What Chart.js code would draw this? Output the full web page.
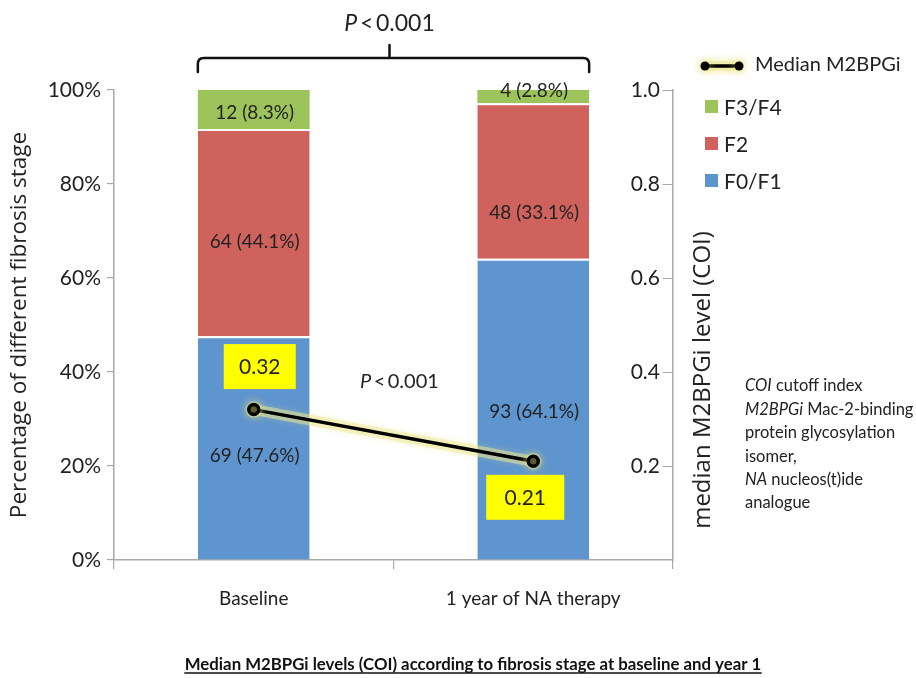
<!DOCTYPE html>
<html><head><meta charset="utf-8">
<script src="https://cdn.jsdelivr.net/npm/chart.js@4/dist/chart.umd.min.js"></script>
<style>html,body{margin:0;padding:0;background:#fff}canvas{display:block}</style>
</head><body>
<canvas id="c" width="916" height="678"></canvas>
<script>
// ---------------- data ----------------
const categories = ['Baseline', '1 year of NA therapy'];
const seriesNames = ['F0/F1', 'F2', 'F3/F4'];
const countsF01 = [69, 93];
const countsF2 = [64, 48];
const countsF34 = [12, 4];
const pctF01 = [47.6, 64.1];
const pctF2 = [44.1, 33.1];
const pctF34 = [8.3, 2.8];
const medianM2BPGi = [0.32, 0.21];
const medianLabel = 'Median M2BPGi';
const leftTicks = [0, 20, 40, 60, 80, 100];
const rightTicks = [0, 0.2, 0.4, 0.6, 0.8, 1.0];
const pText = '0.001';
const leftTitle = 'Percentage of different fibrosis stage';
const rightTitle = 'median M2BPGi level (COI)';
const bottomTitle = 'Median M2BPGi levels (COI) according to fibrosis stage at baseline and year 1';
const annotationLines = [
  [['COI', true], [' cutoff index', false]],
  [['M2BPGi', true], [' Mac-2-binding', false]],
  [['protein glycosylation', false]],
  [['isomer,', false]],
  [['NA', true], [' nucleos(t)ide', false]],
  [['analogue', false]]
];

// ---------------- style ----------------
const FONT = 'Lato';
const TXT = '#222';
const AX = '#a8a8a8';
const COL = { F01: '#5f95cf', F2: '#cf625c', F34: '#9dc35b' };
const GLOW = 'rgba(240,236,160,0.5)';

function barDs(label, data, counts, color, topBorder) {
  return {
    type: 'bar', label, data, counts, backgroundColor: color,
    stack: 's', yAxisID: 'y', order: 2,
    barPercentage: 0.4, categoryPercentage: 1.0,
    borderColor: '#ffffff', borderWidth: { top: topBorder, left: 0, right: 0, bottom: 0 }, borderSkipped: false
  };
}

const datasets = [
  barDs(seriesNames[0], pctF01, countsF01, COL.F01, 2),
  barDs(seriesNames[1], pctF2, countsF2, COL.F2, 2),
  barDs(seriesNames[2], pctF34, countsF34, COL.F34, 0),
  {
    type: 'line', label: medianLabel, data: medianM2BPGi, yAxisID: 'y1', order: 0,
    borderColor: '#000', borderWidth: 3.5, pointRadius: 5, pointBackgroundColor: '#000',
    pointBorderColor: '#000', fill: false, tension: 0
  },
  {
    type: 'line', label: 'glow', data: medianM2BPGi, yAxisID: 'y1', order: 1,
    borderColor: GLOW, borderWidth: 11, pointRadius: 8, pointBorderWidth: 0,
    pointBackgroundColor: GLOW, fill: false, tension: 0
  }
];

// label offsets (px) per segment: [dataset][category]; 'top' = centred at top edge
const labelOffsets = [[8, 3], [9, 32], [3, 'top']];
const boxShift = [6, -8];

function setFont(ctx, size, italic, bold, family) {
  ctx.font = (italic ? 'italic ' : '') + (bold ? 'bold ' : '') + size + 'px ' + (family || FONT);
}
function drawRich(ctx, parts, x, y, size) {
  let cx = x;
  parts.forEach(([t, it]) => {
    setFont(ctx, size, it);
    ctx.fillText(t, cx, y);
    cx += ctx.measureText(t).width;
  });
}
function drawP(ctx, cx, cy, size) {
  setFont(ctx, size, true);
  const wP = ctx.measureText('P').width;
  setFont(ctx, size, false);
  const wL = ctx.measureText('<').width;
  const wN = ctx.measureText(pText).width;
  const gap = size * 0.12;
  const total = wP + gap + wL + gap + wN;
  let x = cx - total / 2;
  ctx.textAlign = 'left'; ctx.textBaseline = 'middle'; ctx.fillStyle = TXT;
  setFont(ctx, size, true); ctx.fillText('P', x, cy); x += wP + gap;
  setFont(ctx, size, false); ctx.fillText('<', x, cy); x += wL + gap;
  ctx.fillText(pText, x, cy);
}

const glowPlugin = {
  id: 'glow',
  beforeDatasetDraw(chart, args) {
    if (args.index === 3) {
      const ctx = chart.ctx; ctx.save();
      ctx.shadowColor = 'rgba(230,225,120,0.9)'; ctx.shadowBlur = 9;
    }
  },
  afterDatasetDraw(chart, args) {
    if (args.index === 3) chart.ctx.restore();
  }
};

const decoPlugin = {
  id: 'deco',
  afterDatasetsDraw(chart) {
    const ctx = chart.ctx;
    const ca = chart.chartArea;
    ctx.save();
    // segment labels
    ctx.fillStyle = TXT; ctx.textAlign = 'center'; ctx.textBaseline = 'middle';
    setFont(ctx, 19, false);
    for (let i = 0; i < 3; i++) {
      const ds = chart.data.datasets[i];
      const meta = chart.getDatasetMeta(i);
      meta.data.forEach((el, j) => {
        const off = labelOffsets[i][j];
        const y = off === 'top' ? el.y + 1 : (el.y + el.base) / 2 + off;
        ctx.fillText(ds.counts[j] + ' (' + ds.data[j].toFixed(1) + '%)', el.x + 1, y);
      });
    }
    // yellow value boxes
    const lm = chart.getDatasetMeta(3);
    lm.data.forEach((pt, j) => {
      const w = j === 0 ? 72 : 78, h = 45;
      const cx = pt.x + boxShift[j];
      const cy = j === 0 ? pt.y - 43 : pt.y + 36;
      ctx.fillStyle = '#ffff00';
      ctx.fillRect(cx - w / 2, cy - h / 2, w, h);
      ctx.fillStyle = TXT; setFont(ctx, 21, false);
      ctx.textAlign = 'center'; ctx.textBaseline = 'middle';
      ctx.fillText(chart.data.datasets[3].data[j].toFixed(2), cx, cy + 1);
    });
    // middle P
    drawP(ctx, (lm.data[0].x + lm.data[1].x) / 2 + 6, ca.top + 292, 20);
    ctx.restore();
  },
  afterDraw(chart) {
    const ctx = chart.ctx;
    const ca = chart.chartArea;
    ctx.save();
    // bracket
    const b0 = chart.getDatasetMeta(0).data[0], b1 = chart.getDatasetMeta(0).data[1];
    const xL = b0.x - b0.width / 2, xR = b1.x + b1.width / 2;
    const yB = 58, r = 6;
    const xm = (xL + xR) / 2 - 4;
    ctx.strokeStyle = '#111'; ctx.lineWidth = 2.5; ctx.lineJoin = 'round'; ctx.lineCap = 'round';
    ctx.beginPath();
    ctx.moveTo(xL, yB + 14);
    ctx.lineTo(xL, yB + r);
    ctx.quadraticCurveTo(xL, yB, xL + r, yB);
    ctx.lineTo(xR - r, yB);
    ctx.quadraticCurveTo(xR, yB, xR, yB + r);
    ctx.lineTo(xR, yB + 14);
    ctx.moveTo(xm, yB); ctx.lineTo(xm, yB - 13);
    ctx.stroke();
    drawP(ctx, xm, 24, 23);

    // right axis tick marks
    const s1 = chart.scales.y1;
    ctx.strokeStyle = AX; ctx.lineWidth = 1.2;
    rightTicks.forEach(v => {
      if (v === 0) return;
      const y = Math.round(s1.getPixelForValue(v)) + 0.5;
      ctx.beginPath(); ctx.moveTo(ca.right - 10, y); ctx.lineTo(ca.right, y); ctx.stroke();
    });

    // right axis title (fitted to reference length)
    ctx.save();
    ctx.translate(ca.right + 30, 380);
    ctx.rotate(-Math.PI / 2);
    ctx.fillStyle = TXT; ctx.textAlign = 'center'; ctx.textBaseline = 'middle';
    setFont(ctx, 20, false, false, 'Open Sans');
    const rw = ctx.measureText(rightTitle).width;
    setFont(ctx, Math.min(24, 20 * 312 / rw).toFixed(1), false, false, 'Open Sans');
    ctx.fillText(rightTitle, 0, 0);
    ctx.restore();

    // legend
    const lx = 705;
    ctx.save();
    ctx.shadowColor = 'rgba(230,225,120,0.9)'; ctx.shadowBlur = 9;
    ctx.strokeStyle = GLOW; ctx.lineWidth = 10;
    ctx.beginPath(); ctx.moveTo(lx, 66); ctx.lineTo(lx + 34, 66); ctx.stroke();
    ctx.strokeStyle = '#000'; ctx.lineWidth = 3.5;
    ctx.beginPath(); ctx.moveTo(lx, 66); ctx.lineTo(lx + 34, 66); ctx.stroke();
    ctx.fillStyle = '#000';
    [lx, lx + 34].forEach(x => { ctx.beginPath(); ctx.arc(x, 66, 4.5, 0, Math.PI * 2); ctx.fill(); });
    ctx.restore();
    ctx.fillStyle = TXT; ctx.textAlign = 'left'; ctx.textBaseline = 'middle';
    setFont(ctx, 20, false);
    ctx.fillText(chart.data.datasets[3].label, lx + 50, 65);
    const order = [2, 1, 0];
    order.forEach((di, k) => {
      const ds = chart.data.datasets[di];
      const y = 107 + k * 37;
      ctx.fillStyle = ds.backgroundColor;
      ctx.fillRect(lx, y - 7, 13, 13);
      ctx.fillStyle = TXT; setFont(ctx, 21, false);
      ctx.fillText(ds.label, lx + 19, y + 1);
    });

    // annotation
    ctx.fillStyle = TXT; ctx.textAlign = 'left'; ctx.textBaseline = 'middle';
    annotationLines.forEach((parts, k) => drawRich(ctx, parts, 745, 386 + k * 23.4, 16.5));

    // bottom title
    setFont(ctx, 16.8, false, true);
    ctx.textAlign = 'center'; ctx.textBaseline = 'alphabetic'; ctx.fillStyle = '#111';
    const tx = 473, ty = 670;
    ctx.fillText(bottomTitle, tx, ty);
    const tw = ctx.measureText(bottomTitle).width;
    ctx.strokeStyle = '#111'; ctx.lineWidth = 1.3;
    ctx.beginPath(); ctx.moveTo(tx - tw / 2, ty + 3); ctx.lineTo(tx + tw / 2, ty + 3); ctx.stroke();
    ctx.restore();
  }
};

new Chart(document.getElementById('c'), {
  data: { labels: categories, datasets },
  options: {
    responsive: false, animation: false, devicePixelRatio: 1,
    layout: { padding: { top: 90, left: 0, right: 0, bottom: 0 } },
    plugins: { legend: { display: false }, tooltip: { enabled: false }, title: { display: false } },
    scales: {
      x: {
        stacked: true, offset: true,
        grid: { display: true, drawOnChartArea: false, tickLength: 9, color: AX, lineWidth: 1.2 },
        border: { color: AX, width: 1.5 },
        ticks: { font: { family: FONT, size: 19 }, color: TXT, padding: 18 },
        afterFit(s) { s.height = 118; }
      },
      y: {
        stacked: true, min: 0, max: 100,
        afterBuildTicks(s) { s.ticks = leftTicks.map(v => ({ value: v })); },
        ticks: { callback: v => v + '%', font: { family: FONT, size: 21 }, color: TXT, padding: 6 },
        grid: { drawOnChartArea: false, tickLength: 7, color: AX, lineWidth: 1.2 },
        border: { color: AX, width: 1.5 },
        title: { display: true, text: leftTitle, font: { family: 'Open Sans', size: 22.5 }, color: TXT, padding: { top: 6, bottom: 0 } },
        afterFit(s) { s.width = 114; }
      },
      y1: {
        position: 'right', min: 0, max: 1,
        afterBuildTicks(s) { s.ticks = rightTicks.map(v => ({ value: v })); },
        ticks: { mirror: true, padding: -13, callback: v => (v === 0 ? '' : v.toFixed(1)), font: { family: FONT, size: 21 }, color: TXT },
        grid: { drawOnChartArea: false, drawTicks: false },
        border: { color: AX, width: 1.5 },
        afterFit(s) { s.width = 243; }
      }
    }
  },
  plugins: [glowPlugin, decoPlugin]
});
</script>
</body></html>
